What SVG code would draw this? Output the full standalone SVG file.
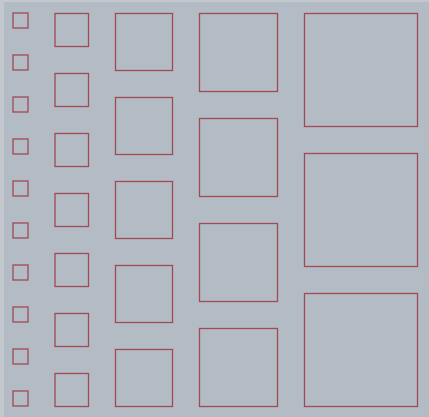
<svg xmlns="http://www.w3.org/2000/svg" width="429" height="417" viewBox="0 0 429 417">
<style>
.sq{fill:none;stroke:#a04a55;stroke-width:1.3}
</style>
<rect x="0" y="0" width="429" height="417" fill="#b3bbc5"/>
<rect x="0" y="0" width="4" height="417" fill="#c3c8cf"/>
<rect x="0" y="0" width="429" height="2" fill="#c3c8cf"/>
<g id="col1">
<rect class="sq" x="13" y="13" width="15" height="15"/>
<rect class="sq" x="13" y="55" width="15" height="15"/>
<rect class="sq" x="13" y="97" width="15" height="15"/>
<rect class="sq" x="13" y="139" width="15" height="15"/>
<rect class="sq" x="13" y="181" width="15" height="15"/>
<rect class="sq" x="13" y="223" width="15" height="15"/>
<rect class="sq" x="13" y="265" width="15" height="15"/>
<rect class="sq" x="13" y="307" width="15" height="15"/>
<rect class="sq" x="13" y="349" width="15" height="15"/>
<rect class="sq" x="13" y="391" width="15" height="15"/>
</g>
<g id="col2">
<rect class="sq" x="55" y="13.5" width="33.5" height="33"/>
<rect class="sq" x="55" y="73.5" width="33.5" height="33"/>
<rect class="sq" x="55" y="133.5" width="33.5" height="33"/>
<rect class="sq" x="55" y="193.5" width="33.5" height="33"/>
<rect class="sq" x="55" y="253.5" width="33.5" height="33"/>
<rect class="sq" x="55" y="313.5" width="33.5" height="33"/>
<rect class="sq" x="55" y="373.5" width="33.5" height="33"/>
</g>
<g id="col3">
<rect class="sq" x="115.5" y="13.5" width="57" height="57"/>
<rect class="sq" x="115.5" y="97.5" width="57" height="57"/>
<rect class="sq" x="115.5" y="181.5" width="57" height="57"/>
<rect class="sq" x="115.5" y="265.5" width="57" height="57"/>
<rect class="sq" x="115.5" y="349.5" width="57" height="57"/>
</g>
<g id="col4">
<rect class="sq" x="199.5" y="13.5" width="78" height="78"/>
<rect class="sq" x="199.5" y="118.5" width="78" height="78"/>
<rect class="sq" x="199.5" y="223.5" width="78" height="78"/>
<rect class="sq" x="199.5" y="328.5" width="78" height="78"/>
</g>
<g id="col5">
<rect class="sq" x="304.5" y="13.5" width="113" height="113"/>
<rect class="sq" x="304.5" y="153.5" width="113" height="113"/>
<rect class="sq" x="304.5" y="293.5" width="113" height="113"/>
</g>
</svg>
